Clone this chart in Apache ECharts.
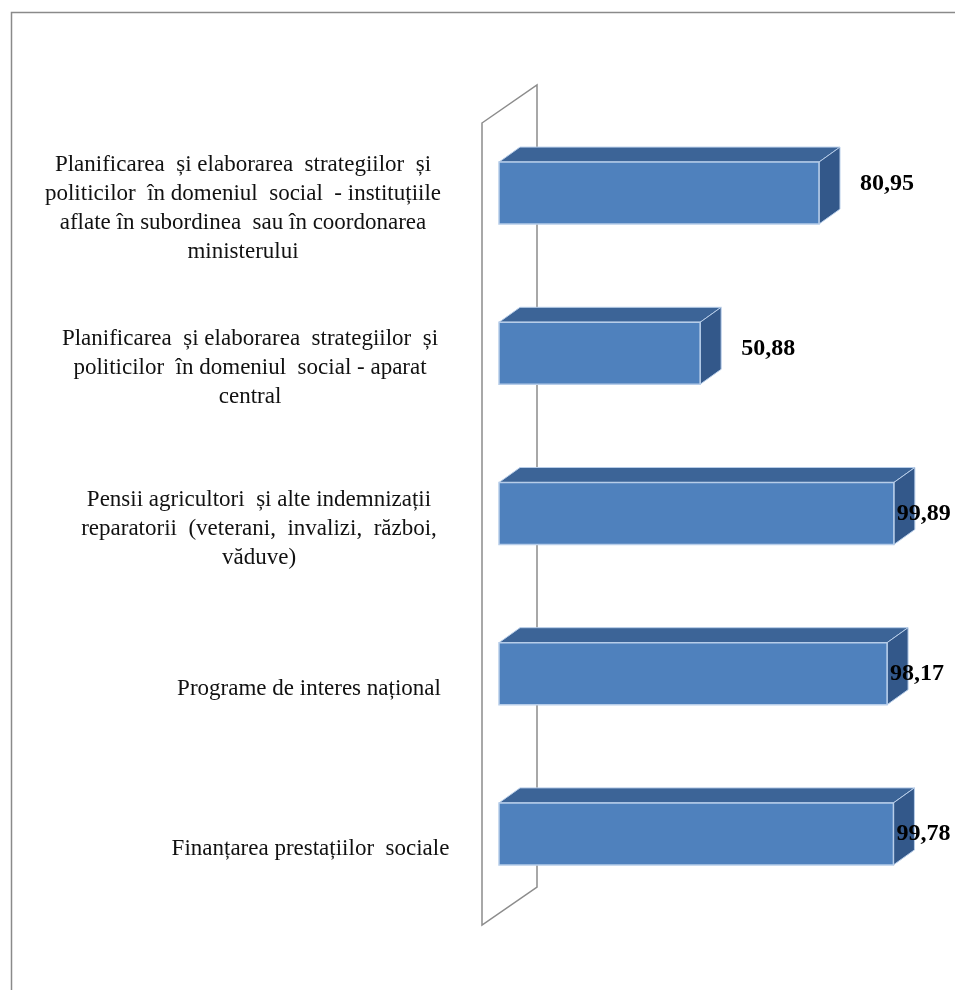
<!DOCTYPE html>
<html>
<head>
<meta charset="utf-8">
<script src="https://cdn.jsdelivr.net/npm/echarts@6/dist/echarts.min.js"></script>
<style>
  html, body { margin: 0; padding: 0; background: #ffffff; }
  #chart { width: 955px; height: 990px; }
</style>
</head>
<body>
<div id="chart"></div>
<script>
// ---- data ----
var categories = [
  'Planificarea  și elaborarea  strategiilor  și\npoliticilor  în domeniul  social  - instituțiile\naflate în subordinea  sau în coordonarea\nministerului',
  'Planificarea  și elaborarea  strategiilor  și\npoliticilor  în domeniul  social - aparat\ncentral',
  'Pensii agricultori  și alte indemnizații\nreparatorii  (veterani,  invalizi,  război,\nvăduve)',
  'Programe de interes național',
  'Finanțarea prestațiilor  sociale'
];
var values = [80.95, 50.88, 99.89, 98.17, 99.78];
var valueLabels = ['80,95', '50,88', '99,89', '98,17', '99,78'];

// ---- presentation ----
var labelBoxWidths = [434, 420, 402, 302, 299];
var valueLabelDx = [41, 41, 3, 3, 3];
var valueLabelDy = [-9, -5, 0, 0, 0];
var DEPTH_X = 21, DEPTH_Y = -15, BAR_H = 62;

var rich = {};
labelBoxWidths.forEach(function (w, i) {
  rich['c' + i] = {
    width: w, align: 'center', lineHeight: 29,
    fontFamily: '"Liberation Serif", "Times New Roman", serif',
    fontSize: 23, color: '#111111'
  };
});

var chart = echarts.init(document.getElementById('chart'), null, { renderer: 'canvas' });

chart.setOption({
  backgroundColor: '#ffffff',
  animation: false,
  graphic: [{
    type: 'rect', left: 9, top: 10, z: -10, silent: true,
    shape: { width: 1000, height: 1000 },
    style: { fill: 'none', stroke: '#8a8a8a', lineWidth: 1.5 }
  }],
  grid: { left: 499, top: 113, width: 395.3, height: 801 },
  xAxis: {
    type: 'value', min: 0, max: 100, interval: 20, show: false
  },
  yAxis: {
    type: 'category', data: categories, inverse: true,
    axisLine: { show: false }, axisTick: { show: false }, splitLine: { show: false },
    axisLabel: {
      margin: 39, padding: [30, 0, 0, 0],
      formatter: function (val, idx) {
        return val.split('\n').map(function (l) { return '{c' + idx + '|' + l + '}'; }).join('\n');
      },
      rich: rich
    }
  },
  series: [
    {
      type: 'custom', name: 'wall', z: 1, silent: true,
      data: [[0, 0]],
      renderItem: function (params, api) {
        var cs = params.coordSys;
        var gx = cs.x, gy = cs.y, gh = cs.height;
        return {
          type: 'polygon',
          shape: { points: [[gx - 17, gy + 10], [gx + 38, gy - 28], [gx + 38, gy + gh - 27], [gx - 17, gy + gh + 11]] },
          style: { fill: '#ffffff', stroke: '#8c8c8c', lineWidth: 1.5 }
        };
      }
    },
    {
      type: 'custom', name: 'values', z: 2,
      data: values.map(function (v, i) { return [v, i]; }),
      encode: { x: 0, y: 1 },
      renderItem: function (params, api) {
        var i = params.dataIndex;
        var start = api.coord([0, api.value(1)]);
        var end = api.coord([api.value(0), api.value(1)]);
        var x0 = start[0], x1 = end[0], c = end[1];
        var yT = c - BAR_H / 2, yB = c + BAR_H / 2;
        var edge = '#b7cde9';
        return {
          type: 'group',
          children: [
            { type: 'polygon', shape: { points: [[x0, yT], [x0 + DEPTH_X, yT + DEPTH_Y], [x1 + DEPTH_X, yT + DEPTH_Y], [x1, yT]] },
              style: { fill: '#3c6497', stroke: edge, lineWidth: 1 } },
            { type: 'polygon', shape: { points: [[x1, yT], [x1 + DEPTH_X, yT + DEPTH_Y], [x1 + DEPTH_X, yB + DEPTH_Y], [x1, yB]] },
              style: { fill: '#33588a', stroke: edge, lineWidth: 1 } },
            { type: 'rect', shape: { x: x0, y: yT, width: x1 - x0, height: yB - yT },
              style: { fill: '#4f81bd', stroke: edge, lineWidth: 1.5 } },
            { type: 'text', z2: 10,
              style: { text: valueLabels[i], x: x1 + valueLabelDx[i], y: c + valueLabelDy[i],
                align: 'left', verticalAlign: 'middle', fill: '#000000',
                font: 'bold 24px "Liberation Serif", "Times New Roman", serif' } }
          ]
        };
      }
    }
  ]
});
</script>
</body>
</html>
